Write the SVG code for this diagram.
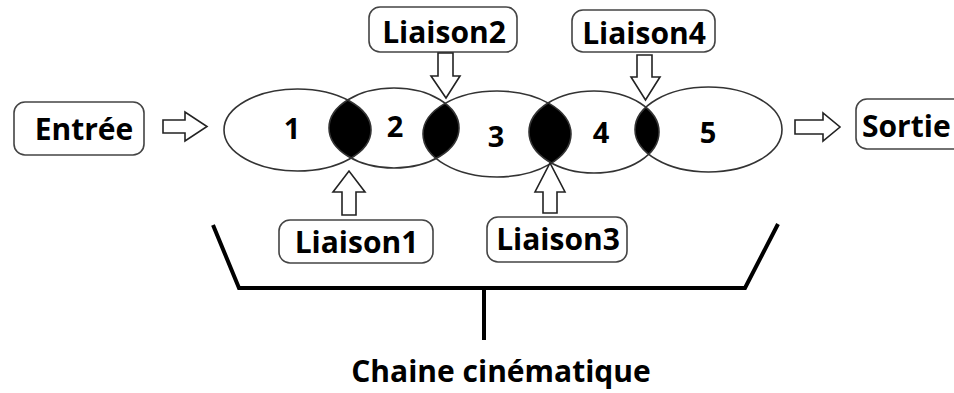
<svg xmlns="http://www.w3.org/2000/svg" width="954" height="393" viewBox="0 0 954 393">
<style>
.box{fill:#fff;stroke:#444;stroke-width:1.6}
.ell{fill:none;stroke:#333;stroke-width:1.6}
.arr{fill:#fff;stroke:#222;stroke-width:1.6;stroke-linejoin:miter}
.lbl{font-family:"Open Sans","DejaVu Sans",sans-serif;font-weight:700;font-size:30px;fill:#000}
.num{font-family:"Open Sans","DejaVu Sans",sans-serif;font-weight:700;font-size:29px;fill:#000;text-anchor:middle}
.br{fill:none;stroke:#000;stroke-width:4;stroke-linejoin:miter}
</style>
<defs>
<clipPath id="c1"><ellipse cx="297.5" cy="130" rx="73.5" ry="41"/></clipPath>
<clipPath id="c2"><ellipse cx="394" cy="128" rx="65" ry="40"/></clipPath>
<clipPath id="c3"><ellipse cx="497" cy="134" rx="74" ry="43"/></clipPath>
<clipPath id="c4"><ellipse cx="594" cy="132" rx="65" ry="41"/></clipPath>
</defs>
<rect width="954" height="393" fill="#fff"/>
<g id="lenses">
<ellipse cx="394" cy="128" rx="65" ry="40" fill="#000" clip-path="url(#c1)"/>
<ellipse cx="497" cy="134" rx="74" ry="43" fill="#000" clip-path="url(#c2)"/>
<ellipse cx="594" cy="132" rx="65" ry="41" fill="#000" clip-path="url(#c3)"/>
<ellipse cx="708.5" cy="129.5" rx="73.5" ry="42.5" fill="#000" clip-path="url(#c4)"/>
</g>
<g id="piece1"><ellipse class="ell" cx="297.5" cy="130" rx="73.5" ry="41"/><text class="num" x="292" y="139">1</text></g>
<g id="piece2"><ellipse class="ell" cx="394" cy="128" rx="65" ry="40"/><text class="num" x="395" y="137">2</text></g>
<g id="piece3"><ellipse class="ell" cx="497" cy="134" rx="74" ry="43"/><text class="num" x="496" y="147">3</text></g>
<g id="piece4"><ellipse class="ell" cx="594" cy="132" rx="65" ry="41"/><text class="num" x="601" y="143">4</text></g>
<g id="piece5"><ellipse class="ell" cx="708.5" cy="129.5" rx="73.5" ry="42.5"/><text class="num" x="708" y="143">5</text></g>
<g id="entree"><rect class="box" x="14" y="102" width="130" height="53" rx="11"/><text class="lbl" x="84" y="140" text-anchor="middle">Entrée</text></g>
<g id="sortie"><rect class="box" x="856" y="99" width="110" height="50" rx="11"/><text class="lbl" x="862" y="137">Sortie</text></g>
<g id="liaison1"><rect class="box" x="279" y="220" width="154" height="43" rx="11"/><text class="lbl" x="356.5" y="253" text-anchor="middle">Liaison1</text></g>
<g id="liaison2"><rect class="box" x="369" y="7" width="148" height="45" rx="11"/><text class="lbl" x="444" y="43" text-anchor="middle">Liaison2</text></g>
<g id="liaison3"><rect class="box" x="487" y="217" width="140" height="45" rx="11"/><text class="lbl" x="558" y="250" text-anchor="middle">Liaison3</text></g>
<g id="liaison4"><rect class="box" x="572" y="10" width="143" height="42" rx="11"/><text class="lbl" x="644" y="44" text-anchor="middle">Liaison4</text></g>
<g id="connectors">
<path class="arr" d="M163,120 H185 V112 L207,126.5 L185,141 V133 H163 Z"/>
<path class="arr" d="M795,120 H823 V113 L840,127 L823,141 V134 H795 Z"/>
<path class="arr" d="M438,53 V76 H431 L446,98 L460,76 H453 V53 Z"/>
<path class="arr" d="M637,55 V77 H631 L645.5,100 L660,77 H652 V55 Z"/>
<path class="arr" d="M342,215 V192 H333 L349,171 L365,192 H356 V215 Z"/>
<path class="arr" d="M543,213 V192 H535 L550,163 L565,192 H557 V213 Z"/>
</g>
<g id="chaine">
<polyline class="br" points="213,225 239,288 745,288 778,224"/>
<line class="br" x1="484" y1="288" x2="484" y2="340"/>
<text class="lbl" x="501" y="382" text-anchor="middle">Chaine cinématique</text>
</g>
</svg>
